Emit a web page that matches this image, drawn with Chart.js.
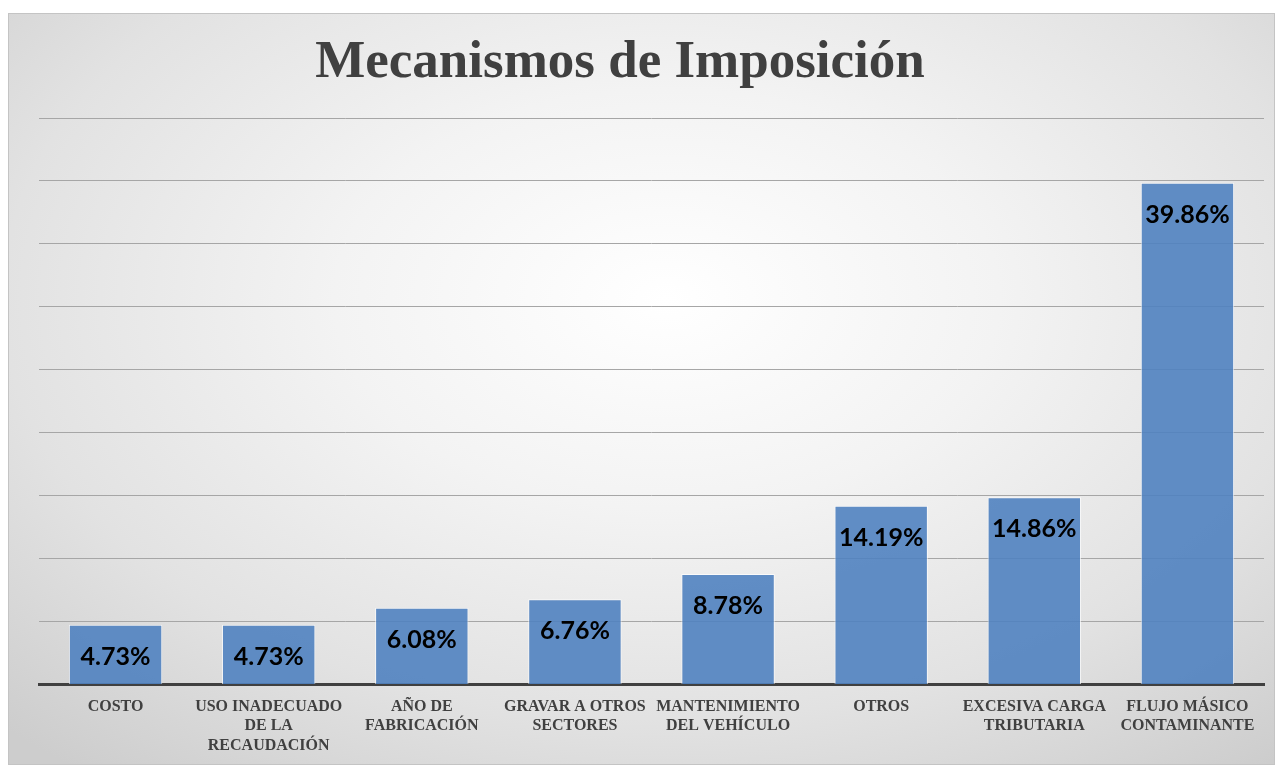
<!DOCTYPE html>
<html>
<head>
<meta charset="utf-8">
<script src="https://cdn.jsdelivr.net/npm/chart.js@4"></script>
<style>
  html, body { margin: 0; padding: 0; background: #fff; }
  #box {
    position: absolute; left: 8px; top: 13px; width: 1267px; height: 752px;
    border: 1px solid #c4c4c4; box-sizing: border-box;
    background: radial-gradient(ellipse 75% 80% at 52% 38%, #ffffff 0%, #f3f3f3 35%, #e2e2e2 70%, #cdcdcd 100%);
  }
  #statsChart { display: block; }
</style>
</head>
<body>
<div id="box"><canvas id="statsChart" width="1265" height="750"></canvas></div>
<script>
// datos del gráfico
const categorias = [
  ["COSTO"],
  ["USO INADECUADO", "DE LA", "RECAUDACIÓN"],
  ["AÑO DE", "FABRICACIÓN"],
  ["GRAVAR A OTROS", "SECTORES"],
  ["MANTENIMIENTO", "DEL VEHÍCULO"],
  ["OTROS"],
  ["EXCESIVA CARGA", "TRIBUTARIA"],
  ["FLUJO MÁSICO", "CONTAMINANTE"]
];
const porcentajes = [4.73, 4.73, 6.08, 6.76, 8.78, 14.19, 14.86, 39.86];
const titulo = "Mecanismos de Imposición";

// título un poco a la izquierda del centro, como en el original
const tituloPlugin = {
  id: "tituloPlugin",
  afterDraw(chart) {
    const ctx = chart.ctx;
    ctx.save();
    ctx.font = "bold 53px 'Liberation Serif'";
    ctx.fillStyle = "#404040";
    ctx.textAlign = "center";
    ctx.textBaseline = "middle";
    ctx.fillText(titulo, 611, 49);
    ctx.restore();
  }
};

// etiquetas dentro de las barras
const barLabels = {
  id: "barLabels",
  afterDatasetsDraw(chart) {
    const ctx = chart.ctx;
    const meta = chart.getDatasetMeta(0);
    ctx.save();
    ctx.font = "bold 25px Lato";
    ctx.fillStyle = "#000";
    ctx.textAlign = "center";
    ctx.textBaseline = "middle";
    meta.data.forEach((bar, i) => {
      ctx.fillText(porcentajes[i].toFixed(2) + "%", bar.x, bar.y + 32);
    });
    ctx.restore();
  }
};

const ctx = document.getElementById("statsChart").getContext("2d");
new Chart(ctx, {
  type: "bar",
  data: {
    labels: categorias,
    datasets: [{
      data: porcentajes,
      backgroundColor: "rgba(80,130,192,0.9)",
      borderColor: "rgba(255,255,255,0.7)",
      borderWidth: 1,
      categoryPercentage: 1,
      barPercentage: 0.61
    }]
  },
  options: {
    responsive: false,
    animation: false,
    layout: { padding: { left: 30, right: 10, top: 104, bottom: 4 } },
    plugins: {
      legend: { display: false },
      tooltip: { enabled: false },
      title: { display: false }
    },
    scales: {
      x: {
        grid: { display: false },
        border: { display: true, color: "#404040", width: 3 },
        ticks: {
          color: "#404040",
          font: { family: "Liberation Serif", size: 16, weight: "bold" },
          maxRotation: 0,
          autoSkip: false,
          padding: 5
        }
      },
      y: {
        min: 0,
        max: 45,
        ticks: { display: false, stepSize: 5 },
        grid: { color: "#a6a6a6", lineWidth: 1, drawTicks: false },
        border: { display: false }
      }
    }
  },
  plugins: [barLabels, tituloPlugin]
});
</script>
</body>
</html>
